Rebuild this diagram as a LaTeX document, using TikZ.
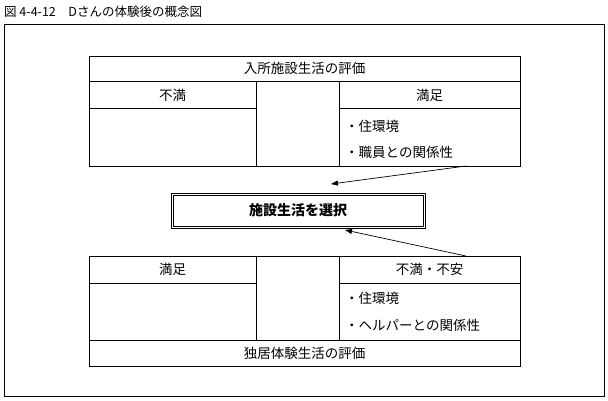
\documentclass[tikz,border=0pt]{standalone}
\usepackage{fontspec}
\setmainfont{Noto Sans CJK JP}
\usetikzlibrary{arrows.meta}
\begin{document}
\begin{tikzpicture}[x=1pt,y=-1pt,
  ln/.style={line width=0.6pt},
  txt/.style={font=\fontsize{13.5}{15}\selectfont,inner sep=0pt},
  arr/.style={line width=0.7pt,-{Triangle[length=7pt,width=5pt]}}]
\useasboundingbox (0,0) rectangle (608,400);
\node[anchor=west,inner sep=0pt,font=\fontsize{12.5}{14}\selectfont] (title) at (4,12) {図 4-4-12　Dさんの体験後の概念図};
\draw[ln] (4,24) rectangle (604,396);
% top table
\draw[ln] (89,56) rectangle (520,166);
\draw[ln] (89,81) -- (520,81);
\draw[ln] (89,108) -- (256,108) (339,108) -- (520,108);
\draw[ln] (256,81) -- (256,166) (339,81) -- (339,166);
\node[txt] (t1) at (304.5,68.5) {入所施設生活の評価};
\node[txt] (t2) at (172.5,95) {不満};
\node[txt] (t3) at (429.5,95) {満足};
\node[txt,anchor=west] (t4) at (345,126) {・住環境};
\node[txt,anchor=west] (t5) at (345,152) {・職員との関係性};
% center
\draw[ln] (171,193) rectangle (425,228);
\draw[ln] (173,195) rectangle (423,226);
\node[txt,font=\fontsize{14}{16}\selectfont\bfseries] (c) at (298,210.5) {施設生活を選択};
\coordinate (a1s) at (466,166); \coordinate (a1e) at (331,184);
\coordinate (a2s) at (466,256); \coordinate (a2e) at (345,230);
\draw[arr] (a1s) -- (a1e);
\draw[arr] (a2s) -- (a2e);
% bottom table
\draw[ln] (89,256) rectangle (520,366);
\draw[ln] (89,283) -- (256,283) (339,283) -- (520,283);
\draw[ln] (89,340) -- (520,340);
\draw[ln] (256,256) -- (256,340) (339,256) -- (339,340);
\node[txt] (b1) at (172.5,269.5) {満足};
\node[txt] (b2) at (429.5,269.5) {不満・不安};
\node[txt,anchor=west] (b3) at (345,298) {・住環境};
\node[txt,anchor=west] (b4) at (345,325) {・ヘルパーとの関係性};
\node[txt] (b5) at (304.5,353) {独居体験生活の評価};
\end{tikzpicture}
\end{document}
